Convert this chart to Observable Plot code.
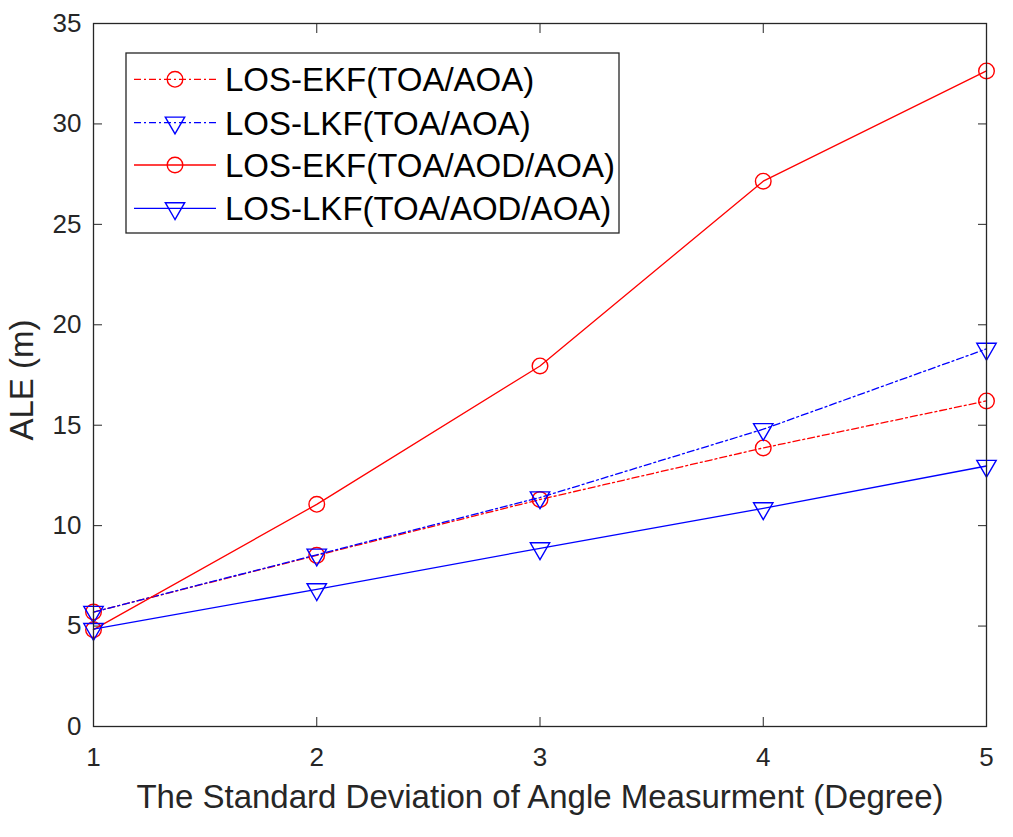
<!DOCTYPE html>
<html>
<head>
<meta charset="utf-8">
<script src="https://cdn.jsdelivr.net/npm/d3@7"></script>
<script src="https://cdn.jsdelivr.net/npm/@observablehq/plot@0.6"></script>
<style>
  html, body { margin: 0; padding: 0; background: #fff; }
  #chart svg { display: block; }
</style>
</head>
<body>
<div id="chart"></div>
<script>
// ---- data ----
const sigma = [1, 2, 3, 4, 5];
const ekfToaAoa = [5.70, 8.52, 11.30, 13.87, 16.21];
const lkfToaAoa = [5.70, 8.55, 11.40, 14.80, 18.80];
const ekfToaAodAoa = [4.82, 11.06, 17.95, 27.15, 32.64];
const lkfToaAodAoa = [4.85, 6.83, 8.87, 10.86, 12.97];
const seriesNames = ["LOS-EKF(TOA/AOA)", "LOS-LKF(TOA/AOA)", "LOS-EKF(TOA/AOD/AOA)", "LOS-LKF(TOA/AOD/AOA)"];
const yTicks = [0, 5, 10, 15, 20, 25, 30, 35];
const xTicks = [1, 2, 3, 4, 5];
const xLabel = "The Standard Deviation of Angle Measurment (Degree)";
const yLabel = "ALE (m)";

const styles = [
  {color: "#ff0000", dash: "7,3,2,3", symbol: "circle"},
  {color: "#0000ff", dash: "7,3,2,3", symbol: "triangle"},
  {color: "#ff0000", dash: null, symbol: "circle"},
  {color: "#0000ff", dash: null, symbol: "triangle"}
];
const values = [ekfToaAoa, lkfToaAoa, ekfToaAodAoa, lkfToaAodAoa];
const series = values.map((vals, i) => sigma.map((x, j) => ({x, y: vals[j], name: seriesNames[i]})));

const FONT = "'Liberation Sans', Arial, Helvetica, sans-serif";
const AX = "#262626";

const marks = [];
series.forEach((data, i) => {
  const s = styles[i];
  marks.push(Plot.line(data, {x: "x", y: "y", stroke: s.color, strokeWidth: 1.3, strokeDasharray: s.dash}));
  marks.push(Plot.dot(data, {
    x: "x", y: "y", stroke: s.color, strokeWidth: 1.4, fill: "none",
    symbol: s.symbol, r: s.symbol === "circle" ? 7.8 : 7.2,
    rotate: s.symbol === "triangle" ? 180 : 0
  }));
});

const chart = Plot.plot({
  width: 1013,
  height: 837,
  marginLeft: 93,
  marginRight: 27,
  marginTop: 23,
  marginBottom: 111,
  style: {fontFamily: FONT, background: "#fff", color: AX},
  x: {domain: [1, 5]},
  y: {domain: [0, 35]},
  marks: [
    Plot.axisY(yTicks, {anchor: "left", tickSize: -9, tickPadding: 21, fontSize: 26, tickFormat: d3.format("d"), label: null, stroke: AX, fill: AX}),
    Plot.axisY(yTicks, {anchor: "right", tickSize: -9, tickFormat: () => "", label: null, stroke: AX}),
    Plot.axisX(xTicks, {anchor: "bottom", tickSize: -9, tickPadding: 30, fontSize: 26, tickFormat: d3.format("d"), label: null, stroke: AX, fill: AX}),
    Plot.axisX(xTicks, {anchor: "top", tickSize: -9, tickFormat: () => "", label: null, stroke: AX}),
    ...marks,
    Plot.frame({stroke: AX, strokeWidth: 1.3}),
    Plot.text([xLabel], {frameAnchor: "bottom", dy: 71, fontSize: 33, fill: AX, lineAnchor: "middle", textAnchor: "middle"}),
    Plot.text([yLabel], {frameAnchor: "left", dx: -71, dy: 5, rotate: -90, fontSize: 33, fill: AX, lineAnchor: "middle", textAnchor: "middle"})
  ]
});

// ---- legend (inside plot, upper left) ----
const svg = d3.select(chart);
const lg = svg.append("g").attr("font-family", FONT).attr("text-anchor", "start");
const box = {x: 126, y: 53, w: 493, h: 180};
lg.append("rect").attr("x", box.x).attr("y", box.y).attr("width", box.w).attr("height", box.h)
  .attr("fill", "#fff").attr("stroke", AX).attr("stroke-width", 1.3);
const rowY = [79.3, 122.7, 165, 208.3];
seriesNames.forEach((name, i) => {
  const s = styles[i];
  const y = rowY[i];
  lg.append("line").attr("x1", 134).attr("x2", 216).attr("y1", y).attr("y2", y)
    .attr("stroke", s.color).attr("stroke-width", 1.3).attr("stroke-dasharray", s.dash);
  const sym = s.symbol === "circle" ? d3.symbolCircle : d3.symbolTriangle;
  const r = s.symbol === "circle" ? 7.8 : 7.2;
  lg.append("path").attr("d", d3.symbol(sym, Math.PI * r * r)())
    .attr("transform", `translate(175,${y}) rotate(${s.symbol === "triangle" ? 180 : 0})`)
    .attr("fill", "none").attr("stroke", s.color).attr("stroke-width", 1.4);
  lg.append("text").attr("x", 225).attr("y", y).attr("dy", "0.36em").attr("text-anchor", "start")
    .attr("font-size", 33).attr("fill", "#000").text(name);
});

document.getElementById("chart").appendChild(chart);
</script>
</body>
</html>
